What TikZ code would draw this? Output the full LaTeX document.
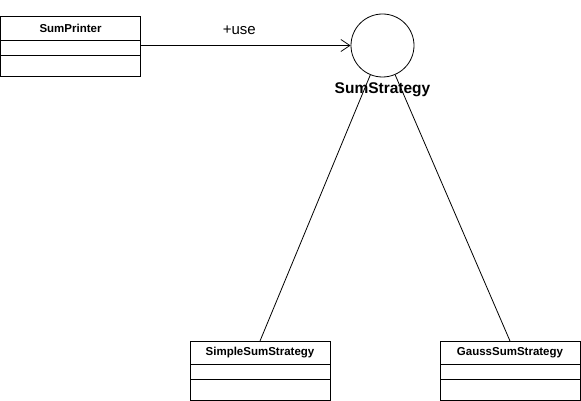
\documentclass[tikz,border=0pt]{standalone}
\usepackage{fontspec}
\setmainfont{Liberation Sans}
\usetikzlibrary{positioning,arrows.meta}

\tikzset{
  classhead/.style={draw, minimum width=140pt, minimum height=24pt, inner sep=0pt, outer sep=0pt,
    font=\fontsize{11.5}{13}\selectfont\bfseries},
  classrow/.style={draw, minimum width=140pt, inner sep=0pt, outer sep=0pt},
}

\begin{document}
\begin{tikzpicture}[x=1pt, y=1pt, line width=0.8pt, >={Straight Barb[length=9pt,width=12pt]}]
        \useasboundingbox (0,0) rectangle (581,-401);

        % Klasse oben links
        \node[classhead] at (70.5,-28) (printer) {SumPrinter};
        \node[classrow, minimum height=15pt, below=0pt of printer] (printerA) {};
        \node[classrow, minimum height=21pt, below=0pt of printerA] (printerB) {};

        % Interface
        \node[draw, circle, minimum size=63pt, inner sep=0pt] at (382.5,-45.5) (strategy) {};
        \node[font=\fontsize{15.5}{17}\selectfont\bfseries, below=1.5pt of strategy] (strategylabel) {SumStrategy};

        % Klassen unten
        \node[classhead, minimum height=23pt] at (260,-352.5) (simple) {SimpleSumStrategy};
        \node[classrow, minimum height=15pt, below=0pt of simple] (simpleA) {};
        \node[classrow, minimum height=21pt, below=0pt of simpleA] (simpleB) {};

        \node[classhead, minimum height=23pt] at (510,-352.5) (gauss) {GaussSumStrategy};
        \node[classrow, minimum height=15pt, below=0pt of gauss] (gaussA) {};
        \node[classrow, minimum height=21pt, below=0pt of gaussA] (gaussB) {};

        % Pfeil
        \draw[->] (printerA.east |- strategy) -- node[pos=0.47, above=7pt, font=\fontsize{15}{17}\selectfont] (use) {+use} (strategy);

        % Linien
        \draw (strategy) -- (simple.north);
        \draw (strategy) -- (gauss.north);

    \end{tikzpicture}
\end{document}
